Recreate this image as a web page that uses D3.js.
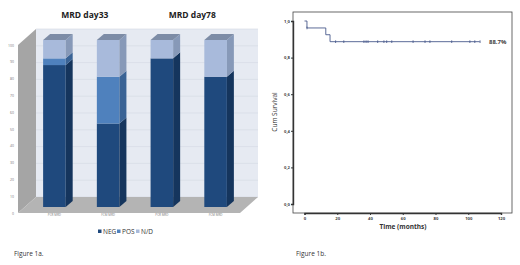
<!DOCTYPE html>
<html lang="en">
<head>
<meta charset="UTF-8">
<title>Figure 1</title>
<script src="https://d3js.org/d3.v7.min.js"></script>
<style>
  body { margin: 0; background: #fff; }
  svg, svg text { font-family: "Open Sans", "DejaVu Sans", sans-serif; }
  svg { display: block; }
</style>
</head>
<body>
<div id="chart"></div>
<script>
// ---- Figure 1a data ----
var bars = ["PCR MRD", "FCM MRD", "PCR MRD ", "FCM MRD "];
var negVals = [85, 50, 89, 78];
var posVals = [4, 28, 0, 0];
var ndVals = [11, 22, 11, 22];
var groupTitles = ["MRD day33", "MRD day78"];
var pctTicks = [0, 10, 20, 30, 40, 50, 60, 70, 80, 90, 100];

// ---- Figure 1b data ----
var kmSteps = [[0, 1.0], [1.5, 0.962], [13, 0.925], [15.6, 0.887], [107, 0.887]];
var censorTimes = [1.5, 19, 24, 36.3, 37.6, 38.8, 44.7, 48.5, 50.2, 53.3, 66.3, 73.6, 76.6, 89.9, 101, 104, 107.2];
var timeTicks = [0, 20, 40, 60, 80, 100, 120];
var survTicks = [0, 0.2, 0.4, 0.6, 0.8, 1.0];

var svg = d3.select("#chart").append("svg")
  .attr("width", 520).attr("height", 265);

// ================= left: 3D stacked bars =================
var left = svg.append("g");
var depthX = 18, depthY = -16;
var yFront = d3.scaleLinear().domain([0, 100]).range([213, 45]);
var yBar = d3.scaleLinear().domain([0, 100]).range([207, 40]);
var xBar = d3.scaleBand().domain(bars).range([27, 243]).paddingInner(0.58).paddingOuter(0.3);

// back wall
left.append("rect")
  .attr("x", 18 + depthX).attr("y", yFront(100) + depthY)
  .attr("width", 222).attr("height", yFront(0) - yFront(100))
  .attr("fill", "#e6eaf2");
left.selectAll(".grid").data(pctTicks).enter().append("line")
  .attr("x1", 18 + depthX).attr("x2", 258)
  .attr("y1", function(d) { return yFront(d) + depthY; })
  .attr("y2", function(d) { return yFront(d) + depthY; })
  .attr("stroke", "#d3d8e2").attr("stroke-width", 0.6);

// side wall
left.append("polygon")
  .attr("points", [[18, yFront(100)], [18 + depthX, yFront(100) + depthY], [18 + depthX, yFront(0) + depthY], [18, yFront(0)]].join(" "))
  .attr("fill", "#a5a5a5");
// floor
left.append("polygon")
  .attr("points", [[18, yFront(0)], [18 + depthX, yFront(0) + depthY], [258, yFront(0) + depthY], [240, yFront(0)]].join(" "))
  .attr("fill", "#b4b4b4");

// y tick labels
var yAxisL = d3.axisLeft(yFront).tickValues(pctTicks).tickSize(0).tickPadding(2);
var yg = left.append("g").attr("transform", "translate(16,0)").call(yAxisL);
yg.attr("font-family", "DejaVu Sans");
yg.select(".domain").remove();
yg.selectAll("text").attr("font-size", 3.5).attr("fill", "#777");

// stacked bars
var segColors = {
  NEG: ["#1f497d", "#15355d"],
  POS: ["#4f81bd", "#3a6395"],
  "N/D": ["#a8badb", "#8799b8"]
};
var sideW = 7, sideH = -6;
bars.forEach(function(b, i) {
  var segs = [["NEG", negVals[i]], ["POS", posVals[i]], ["N/D", ndVals[i]]];
  var base = 0;
  var x0 = xBar(b), w = xBar.bandwidth();
  var g = left.append("g");
  segs.forEach(function(s) {
    if (s[1] <= 0) return;
    var yb = yBar(base), yt = yBar(base + s[1]);
    g.append("rect").attr("x", x0).attr("y", yt).attr("width", w).attr("height", yb - yt)
      .attr("fill", segColors[s[0]][0]);
    g.append("polygon")
      .attr("points", [[x0 + w, yb], [x0 + w + sideW, yb + sideH], [x0 + w + sideW, yt + sideH], [x0 + w, yt]].join(" "))
      .attr("fill", segColors[s[0]][1]);
    base += s[1];
  });
  var yt = yBar(base);
  g.append("polygon")
    .attr("points", [[x0, yt], [x0 + sideW, yt + sideH], [x0 + w + sideW, yt + sideH], [x0 + w, yt]].join(" "))
    .attr("fill", "#7d8ca6");
  left.append("text").attr("x", x0 + w / 2).attr("y", 216)
    .attr("text-anchor", "middle").attr("font-size", 3).attr("fill", "#777").text(b.trim());
});

// group titles
groupTitles.forEach(function(t, i) {
  var cx = (xBar(bars[i * 2]) + xBar(bars[i * 2 + 1]) + xBar.bandwidth() + sideW) / 2;
  left.append("text").attr("x", cx).attr("y", 18).attr("text-anchor", "middle")
    .attr("font-size", 8.5).attr("font-weight", "bold").attr("fill", "#222").text(t);
});

// legend
var legendItems = ["NEG", "POS", "N/D"];
var legX = d3.scalePoint().domain(legendItems).range([98, 136]);
legendItems.forEach(function(k) {
  left.append("rect").attr("x", legX(k)).attr("y", 229.5).attr("width", 3.5).attr("height", 3.5)
    .attr("fill", segColors[k][0]);
  left.append("text").attr("x", legX(k) + 5).attr("y", 234).attr("font-size", 6.5)
    .attr("fill", "#333").text(k);
});

svg.append("text").attr("x", 14).attr("y", 256).attr("font-size", 6.5).attr("fill", "#333").text("Figure 1a.");

// ================= right: Kaplan-Meier =================
var right = svg.append("g");
var xT = d3.scaleLinear().domain([0, 120]).range([304.5, 501]);
var yS = d3.scaleLinear().domain([0, 1]).range([204, 21]);

right.append("rect").attr("x", 293).attr("y", 12).attr("width", 219).attr("height", 201)
  .attr("fill", "none").attr("stroke", "#444").attr("stroke-width", 0.8);

var xg = right.append("g").attr("transform", "translate(0,213)")
  .call(d3.axisBottom(xT).tickValues(timeTicks).tickSize(2).tickPadding(2));
var ygR = right.append("g").attr("transform", "translate(293,0)")
  .call(d3.axisLeft(yS).tickValues(survTicks).tickSize(2).tickPadding(1)
    .tickFormat(function(d) { return d3.format(".1f")(d).replace(".", ","); }));
[xg, ygR].forEach(function(g) {
  g.attr("font-family", "DejaVu Sans");
  g.select(".domain").attr("stroke", "#333").attr("stroke-width", 1.4);
  g.selectAll(".tick line").attr("stroke", "#333");
  g.selectAll("text").attr("font-size", 4.2).attr("font-weight", "bold").attr("fill", "#444");
});

var line = d3.line().x(function(d) { return xT(d[0]); }).y(function(d) { return yS(d[1]); })
  .curve(d3.curveStepAfter);
right.append("path").datum(kmSteps).attr("d", line)
  .attr("fill", "none").attr("stroke", "#4a5a8c").attr("stroke-width", 0.9);

function survAt(t) {
  var s = 1;
  kmSteps.forEach(function(p) { if (p[0] <= t) s = p[1]; });
  return s;
}
right.selectAll(".cens").data(censorTimes).enter().append("line")
  .attr("x1", function(d) { return xT(d); }).attr("x2", function(d) { return xT(d); })
  .attr("y1", function(d) { return yS(survAt(d)) - 1.3; })
  .attr("y2", function(d) { return yS(survAt(d)) + 1.3; })
  .attr("stroke", "#4a5a8c").attr("stroke-width", 0.9);

right.append("text").attr("x", 489).attr("y", 44).attr("font-size", 6).attr("font-weight", "bold")
  .attr("font-family", "DejaVu Sans").attr("fill", "#444").text("88.7%");

right.append("text").attr("x", 403).attr("y", 229).attr("text-anchor", "middle")
  .attr("font-size", 6.5).attr("font-weight", "bold").attr("fill", "#333").text("Time (months)");
right.append("text").attr("transform", "translate(277,112) rotate(-90)").attr("text-anchor", "middle")
  .attr("font-size", 6.5).attr("font-family", "DejaVu Sans").attr("fill", "#333").text("Cum Survival");

svg.append("text").attr("x", 296).attr("y", 256).attr("font-size", 6.5).attr("fill", "#333").text("Figure 1b.");
</script>
</body>
</html>
